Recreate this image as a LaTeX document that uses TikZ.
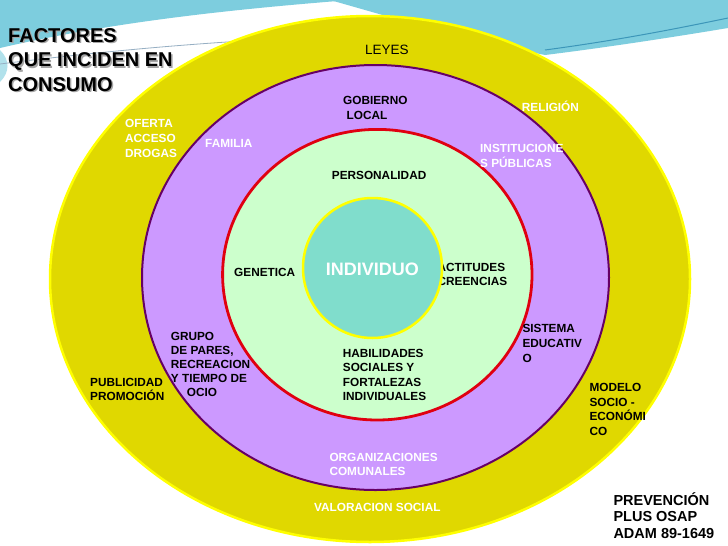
\documentclass[tikz,border=0pt]{standalone}
\usepackage{fontspec}
\setmainfont{Liberation Sans}
\definecolor{yfill}{RGB}{224,216,0}
\definecolor{ybord}{RGB}{255,255,0}
\definecolor{pfill}{RGB}{204,153,255}
\definecolor{pbord}{RGB}{102,0,102}
\definecolor{gfill}{RGB}{204,255,204}
\definecolor{rbord}{RGB}{224,0,16}
\definecolor{tfill}{RGB}{128,221,204}
\definecolor{skyb}{RGB}{125,205,222}
\definecolor{skydark}{RGB}{60,150,185}
\definecolor{skyline}{RGB}{150,175,195}
\definecolor{shadowgray}{RGB}{165,165,165}
\begin{document}
\begin{tikzpicture}[x=1pt,y=-1pt,
  lbl/.style={inner sep=0pt, anchor=north west, align=left, font=\fontsize{11.8}{14.6}\selectfont\bfseries},
  wlbl/.style={lbl, text=white},
  blbl/.style={lbl, text=black},
  titlefont/.style={inner sep=0pt, anchor=north west, align=left, font=\fontsize{20}{24.5}\selectfont\bfseries}
]
\useasboundingbox (0,0) rectangle (728,546);
\fill[white] (0,0) rectangle (728,546);
% background swooshes
\fill[skyb] (0,0) -- (350,0) .. controls (250,8) and (120,20) .. (0,48) -- cycle;
\fill[skyb!60] (0,50) .. controls (10,60) and (10,72) .. (0,82) -- cycle;
\fill[skyb] (330,0) -- (728,0) -- (728,28) .. controls (680,36) and (610,47) .. (545,55) -- (470,40) -- cycle;
\draw[skyline, line width=0.8pt] (0,64) .. controls (80,54) and (170,45) .. (260,40);
\draw[skydark, line width=1pt] (728,18) .. controls (680,28) and (620,40) .. (545,50);
% rings
\filldraw[fill=yfill, draw=ybord, line width=2.5pt] (370,279) ellipse [x radius=320pt, y radius=263pt];
\filldraw[fill=pfill, draw=pbord, line width=2pt] (375.5,277.5) ellipse [x radius=233.5pt, y radius=212.5pt];
\filldraw[fill=gfill, draw=rbord, line width=2.8pt] (377.3,274.7) ellipse [x radius=154.7pt, y radius=145.3pt];
% text partly behind the centre circle
\node[blbl, font=\fontsize{11.8}{14}\selectfont\bfseries] (actitudes) at (437.5,262.7) {ACTITUDES\\CREENCIAS};
\filldraw[fill=tfill, draw=ybord, line width=2.5pt] (372.5,268) ellipse [x radius=69.5pt, y radius=70pt];
\node[inner sep=0pt, anchor=center, text=white, font=\fontsize{18}{20}\selectfont\bfseries] (individuo) at (372.3,269.7) {INDIVIDUO};
% title
\node[titlefont, text=shadowgray] (titleshadow) at (9.5,29.5) {FACTORES\\QUE INCIDEN EN\\CONSUMO};
\node[titlefont] (title) at (8,28) {FACTORES\\QUE INCIDEN EN\\CONSUMO};
% labels
\node[inner sep=0pt, anchor=north west, font=\fontsize{13.5}{15}\selectfont] (leyes) at (365,45) {LEYES};
\node[blbl, font=\fontsize{11.8}{15}\selectfont\bfseries] (gobierno) at (343,96.5) {GOBIERNO\\\hspace*{3.5pt}LOCAL};
\node[wlbl] (religion) at (521.7,100.4) {RELIGIÓN};
\node[wlbl] (instituciones) at (480,144) {INSTITUCIONE\\S PÚBLICAS};
\node[blbl] (personalidad) at (331.7,170.7) {PERSONALIDAD};
\node[wlbl] (oferta) at (125,119.5) {OFERTA\\ACCESO\\DROGAS};
\node[wlbl] (familia) at (205,139.3) {FAMILIA};
\node[blbl] (genetica) at (234,268.3) {GENETICA};
\node[blbl, font=\fontsize{11.8}{15}\selectfont\bfseries] (sistema) at (522.3,324.5) {SISTEMA\\EDUCATIV\\O};
\node[blbl, font=\fontsize{11.8}{14.2}\selectfont\bfseries] (grupo) at (170.7,331.7) {GRUPO\\DE PARES,\\RECREACION\\Y TIEMPO DE\\\hspace*{16pt}OCIO};
\node[blbl, font=\fontsize{11.8}{13.5}\selectfont\bfseries] (publicidad) at (90,378.3) {PUBLICIDAD\\PROMOCIÓN};
\node[blbl, font=\fontsize{11.8}{14.5}\selectfont\bfseries] (habilidades) at (342.7,349) {HABILIDADES\\SOCIALES Y\\FORTALEZAS\\INDIVIDUALES};
\node[blbl] (modelo) at (589.3,383.3) {MODELO\\SOCIO -\\ECONÓMI\\CO};
\node[wlbl, font=\fontsize{11.8}{14}\selectfont\bfseries] (organizaciones) at (329.3,452.7) {ORGANIZACIONES\\COMUNALES};
\node[wlbl] (valoracion) at (314,503.3) {VALORACION SOCIAL};
\node[inner sep=0pt, anchor=north west, align=left, font=\fontsize{14.5}{16.7}\selectfont\bfseries] (prevencion) at (613.3,492) {PREVENCIÓN\\PLUS OSAP\\ADAM 89-1649};
\end{tikzpicture}
\end{document}
